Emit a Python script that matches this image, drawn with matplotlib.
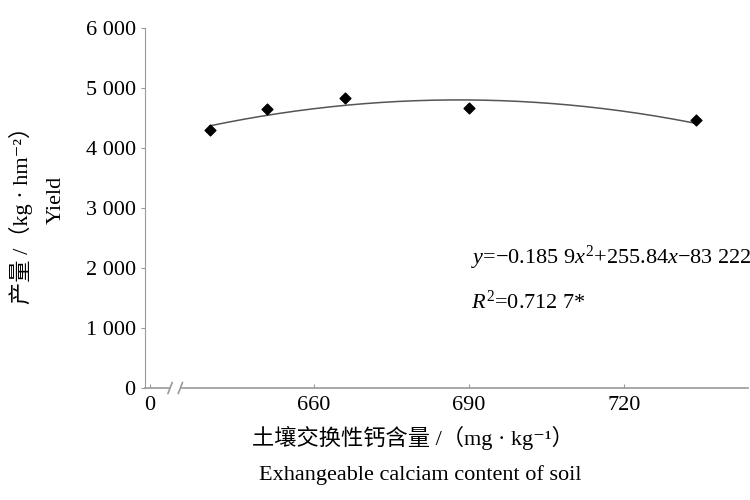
import numpy as np
import matplotlib
matplotlib.use('Agg')
import matplotlib.pyplot as plt

plt.rcParams['font.family'] = ['Liberation Serif', 'Noto Sans CJK SC', 'DejaVu Sans']
plt.rcParams['mathtext.fontset'] = 'custom'
plt.rcParams['mathtext.rm'] = 'Liberation Serif'
plt.rcParams['mathtext.it'] = 'Liberation Serif:italic'

calcium = [640, 651, 666, 690, 734]
yield_kg = [4300, 4650, 4830, 4670, 4470]
coef_a, coef_b, coef_c = -0.1859, 255.84, -83222
x_ticks = [660, 690, 720]
y_ticks = [0, 1000, 2000, 3000, 4000, 5000, 6000]
y_labels = ['0', '1 000', '2 000', '3 000', '4 000', '5 000', '6 000']
zero_pos = 628.3  # where the "0" sits left of the axis break

fig = plt.figure(figsize=(7.5, 5), dpi=100)
ax = fig.add_axes([0.193, 0.224, 0.804, 0.72])
gray = '#999999'

xf = np.linspace(min(calcium), max(calcium), 200)
ax.plot(xf, coef_a * xf**2 + coef_b * xf + coef_c, color='#555555', lw=1.1)
ax.scatter(calcium, yield_kg, marker='D', s=30, color='black', zorder=3)

ax.set_xlim(627.3, 744)
ax.set_ylim(0, 6000)
ax.set_xticks([zero_pos] + x_ticks)
ax.set_xticklabels(['0'] + [str(v) for v in x_ticks])
ax.set_yticks(y_ticks)
ax.set_yticklabels(y_labels)
ax.tick_params(axis='x', direction='in', length=3, color=gray, labelsize=16, pad=6)
ax.tick_params(axis='y', direction='out', length=3, color=gray, labelsize=16)
for s in ['top', 'right']:
    ax.spines[s].set_visible(False)
for s in ['left', 'bottom']:
    ax.spines[s].set_color(gray)
ax.spines['bottom'].set_visible(False)

# bottom axis line with a gap and break marks
kw = dict(color=gray, lw=1.2, clip_on=False, transform=ax.get_xaxis_transform())
ax.plot([627.3, 632.0], [0, 0], **kw)
ax.plot([634.5, 744], [0, 0], **kw)
for xb in [632.2, 634.2]:
    ax.plot([xb - 0.4, xb + 0.4], [-0.015, 0.015], **kw)

ax.text(690.5, 2070, r'$y$=−0.185 9$x^2$+255.84$x$−83 222', fontsize=16)
ax.text(690.5, 1320, r'$R^2$=0.712 7*', fontsize=16)

fig.text(0.028, 0.58, '产量 /（kg · hm⁻²）', rotation=90, fontsize=16, va='center', ha='center')
fig.text(0.075, 0.6, 'Yield', rotation=90, fontsize=16, va='center', ha='center')
fig.text(0.55, 0.11, '土壤交换性钙含量 /（mg · kg⁻¹）', fontsize=16, ha='center')
fig.text(0.56, 0.04, 'Exhangeable calciam content of soil', fontsize=16, ha='center')

fig.savefig('out.png', dpi=100)
